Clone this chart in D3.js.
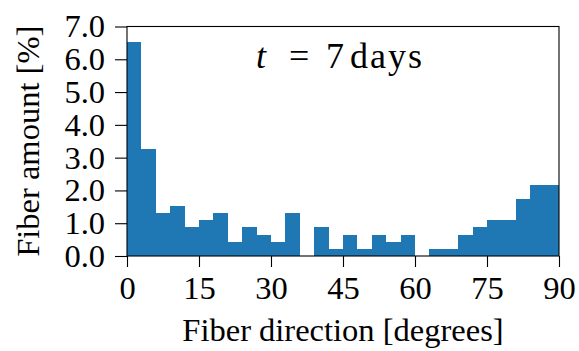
<!DOCTYPE html>
<html>
<head>
<meta charset="utf-8">
<script src="https://cdn.jsdelivr.net/npm/d3@7"></script>
<style>
  html, body { margin: 0; padding: 0; background: #fff; }
  svg { display: block; }
  text { font-family: "Liberation Serif", "DejaVu Serif", serif; fill: #000; }
</style>
</head>
<body>
<svg id="chart" width="579" height="351"></svg>
<script>
// bin start angles (degrees), 3-degree bins
const binStarts = [0, 3, 6, 9, 12, 15, 18, 21, 24, 27, 30, 33, 36, 39, 42,
    45, 48, 51, 54, 57, 60, 63, 66, 69, 72, 75, 78, 81, 84, 87];
const binWidth = 3;
// fiber amount [%] per bin
const amounts = [6.52, 3.26, 1.30, 1.52, 0.87, 1.09, 1.30, 0.43, 0.87, 0.65,
    0.43, 1.30, 0.00, 0.87, 0.22, 0.65, 0.22, 0.65, 0.43, 0.65,
    0.00, 0.22, 0.22, 0.65, 0.87, 1.09, 1.09, 1.74, 2.17, 2.17];
const xTicks = [0, 15, 30, 45, 60, 75, 90];
const yTicks = [0, 1, 2, 3, 4, 5, 6, 7];

const svg = d3.select('#chart');
const margin = {left: 127, right: 20, top: 26.5, bottom: 95};
const width = +svg.attr('width');
const height = +svg.attr('height');
const fontSize = 32.5;

const x = d3.scaleLinear()
    .domain([0, 90])
    .range([margin.left, width - margin.right]);
const y = d3.scaleLinear()
    .domain([0, 7])
    .range([height - margin.bottom, margin.top]);

// bars
svg.append('g')
    .selectAll('rect')
    .data(binStarts.map((s, i) => ({start: s, value: amounts[i]})))
    .enter()
    .append('rect')
    .attr('x', d => x(d.start))
    .attr('width', d => x(d.start + binWidth) - x(d.start))
    .attr('y', d => y(d.value))
    .attr('height', d => y(0) - y(d.value))
    .attr('fill', '#1f77b4')
    .attr('shape-rendering', 'crispEdges');

// frame
svg.append('rect')
    .attr('x', x(0))
    .attr('y', y(7))
    .attr('width', x(90) - x(0))
    .attr('height', y(0) - y(7))
    .attr('fill', 'none')
    .attr('stroke', '#000')
    .attr('stroke-width', 1.1);

const styleAxis = (g) => {
    g.select('.domain').remove();
    g.selectAll('.tick line').attr('stroke', '#000').attr('stroke-width', 1.1);
    g.selectAll('.tick text')
        .attr('font-family', '"Liberation Serif", serif')
        .attr('font-size', fontSize)
        .attr('fill', '#000');
};

svg.append('g')
    .attr('transform', `translate(0,${y(0)})`)
    .call(d3.axisBottom(x).tickValues(xTicks).tickSize(11).tickPadding(9)
        .tickFormat(d3.format('d')))
    .call(styleAxis);

svg.append('g')
    .attr('transform', `translate(${x(0)},0)`)
    .call(d3.axisLeft(y).tickValues(yTicks).tickSize(12).tickPadding(10)
        .tickFormat(d3.format('.1f')))
    .call(styleAxis);

// axis labels
svg.append('text')
    .attr('x', (x(0) + x(90)) / 2)
    .attr('y', 341)
    .attr('text-anchor', 'middle')
    .attr('font-size', fontSize)
    .text('Fiber direction [degrees]');

svg.append('text')
    .attr('transform', `translate(39,${(y(0) + y(7)) / 2}) rotate(-90)`)
    .attr('text-anchor', 'middle')
    .attr('font-size', fontSize)
    .text('Fiber amount [%]');

// annotation "t = 7 days"
const note = svg.append('text')
    .attr('y', 68)
    .attr('font-size', 36);
note.append('tspan').attr('x', 256).attr('font-style', 'italic').text('t');
note.append('tspan').attr('x', 289).text('=');
note.append('tspan').attr('x', 326).text('7');
note.append('tspan').attr('x', 350).attr('letter-spacing', 2).text('days');
</script>
</body>
</html>
